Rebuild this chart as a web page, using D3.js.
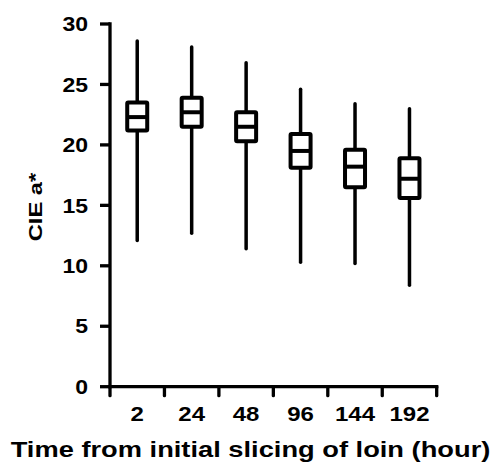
<!DOCTYPE html>
<html>
<head>
<meta charset="utf-8">
<script src="https://cdn.jsdelivr.net/npm/d3@7"></script>
<style>
  body { margin: 0; background: #fff; }
  svg { display: block; }
  text { font-family: "Liberation Sans", Arial, sans-serif; font-weight: bold; fill: #000; }
</style>
</head>
<body>
<svg id="chart" width="495" height="465"></svg>
<script>
const categories = ["2", "24", "48", "96", "144", "192"];
const whiskerLow  = [12.1, 12.7, 11.4, 10.3, 10.2, 8.4];
const q1          = [21.2, 21.5, 20.3, 18.1, 16.5, 15.6];
const median      = [22.3, 22.7, 21.5, 19.5, 18.2, 17.2];
const q3          = [23.5, 23.9, 22.7, 20.9, 19.6, 18.9];
const whiskerHigh = [28.6, 28.1, 26.8, 24.6, 23.4, 23.0];
const yTicks = [0, 5, 10, 15, 20, 25, 30];
const xTitle = "Time from initial slicing of loin (hour)";
const yTitle = "CIE a*";

(function () {
const svg = d3.select("#chart");
const mLeft = 110, mRight = 436.7, mTop = 24, mBottom = 386.7;

const x = d3.scaleBand().domain(categories).range([mLeft, mRight]).padding(0);
const y = d3.scaleLinear().domain([0, 30]).range([mBottom, mTop]);

svg.append("line").attr("x1", mLeft).attr("x2", mLeft).attr("y1", y(30)).attr("y2", y(0))
  .attr("stroke", "#000").attr("stroke-width", 3.3).attr("stroke-linecap", "square");
svg.append("line").attr("x1", mLeft).attr("x2", mRight).attr("y1", mBottom).attr("y2", mBottom)
  .attr("stroke", "#000").attr("stroke-width", 3.3).attr("stroke-linecap", "square");

yTicks.forEach(t => {
  svg.append("line").attr("x1", mLeft - 10).attr("x2", mLeft).attr("y1", y(t)).attr("y2", y(t))
    .attr("stroke", "#000").attr("stroke-width", 3.3);
  svg.append("text")
    .attr("transform", `translate(${88},${y(t)}) scale(1.15,1)`)
    .attr("text-anchor", "end").attr("dy", "0.36em")
    .attr("font-size", 20).text(t);
});

const bounds = categories.map(c => x(c)).concat([x(categories[categories.length - 1]) + x.bandwidth()]);
bounds.forEach(b => {
  svg.append("line").attr("x1", b).attr("x2", b).attr("y1", mBottom).attr("y2", mBottom + 9)
    .attr("stroke", "#000").attr("stroke-width", 3.3).attr("stroke-linecap", "round");
});
categories.forEach(c => {
  svg.append("text")
    .attr("transform", `translate(${x(c) + x.bandwidth() / 2},${421}) scale(1.2,1)`)
    .attr("text-anchor", "middle").attr("font-size", 20).text(c);
});

const bw = 20;
categories.forEach((c, i) => {
  const cx = x(c) + x.bandwidth() / 2;
  const g = svg.append("g");
  g.append("line").attr("x1", cx).attr("x2", cx).attr("y1", y(whiskerHigh[i])).attr("y2", y(q3[i]))
    .attr("stroke", "#000").attr("stroke-width", 3.5).attr("stroke-linecap", "round");
  g.append("line").attr("x1", cx).attr("x2", cx).attr("y1", y(q1[i])).attr("y2", y(whiskerLow[i]))
    .attr("stroke", "#000").attr("stroke-width", 3.5).attr("stroke-linecap", "round");
  g.append("rect").attr("x", cx - bw / 2).attr("width", bw)
    .attr("y", y(q3[i])).attr("height", y(q1[i]) - y(q3[i]))
    .attr("fill", "#fff").attr("stroke", "#000").attr("stroke-width", 4).attr("rx", 1);
  g.append("line").attr("x1", cx - bw / 2).attr("x2", cx + bw / 2).attr("y1", y(median[i])).attr("y2", y(median[i]))
    .attr("stroke", "#000").attr("stroke-width", 4);
});

svg.append("text")
  .attr("transform", `translate(${250.5},${457}) scale(1.24,1)`)
  .attr("text-anchor", "middle").attr("font-size", 22).text(xTitle);
svg.append("text")
  .attr("transform", `translate(${42},${207}) rotate(-90) scale(1.25,1)`)
  .attr("text-anchor", "middle").attr("font-size", 19).text(yTitle);
})();
</script>
</body>
</html>
